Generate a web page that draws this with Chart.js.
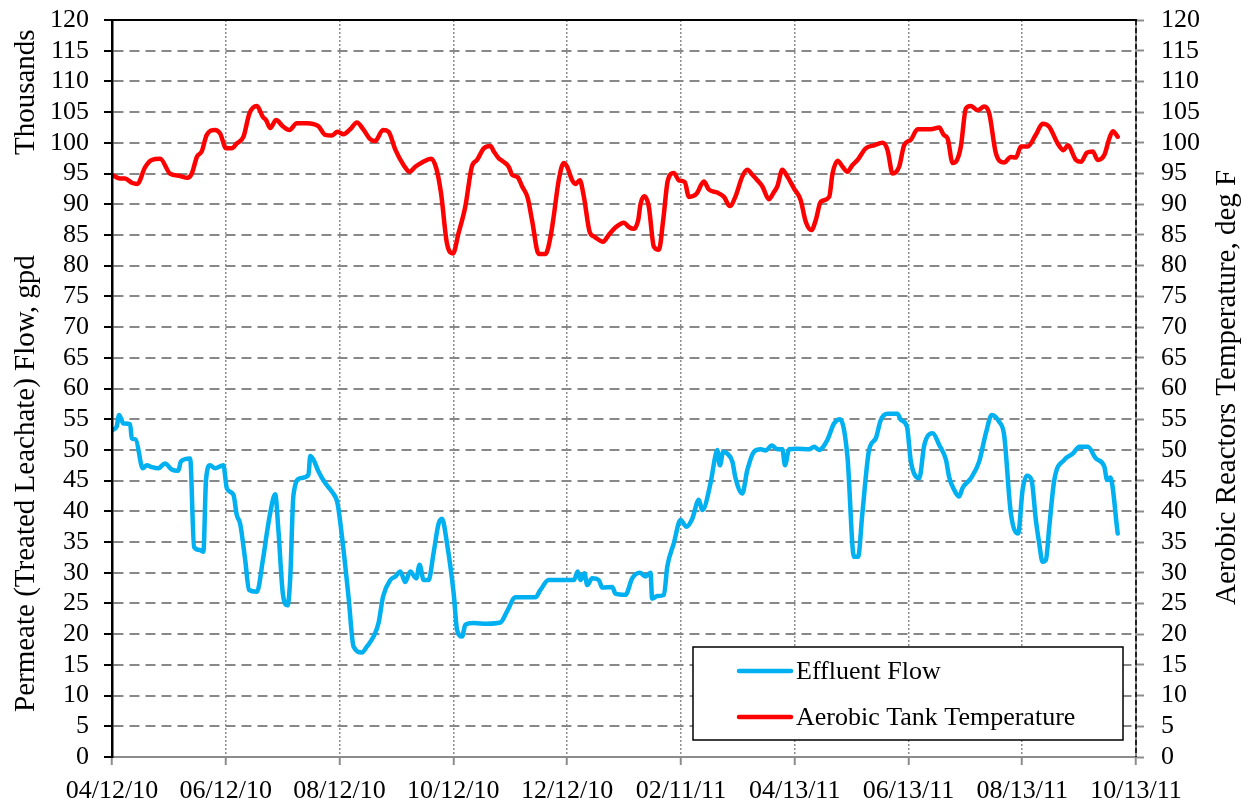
<!DOCTYPE html>
<html>
<head>
<meta charset="utf-8">
<script src="https://cdn.jsdelivr.net/npm/chart.js@4.4.1/dist/chart.umd.min.js"></script>
<style>
  html, body { margin: 0; padding: 0; background: #ffffff; }
  #wrap { width: 1252px; height: 804px; }
</style>
</head>
<body>
<div id="wrap"><canvas id="c" width="1252" height="804"></canvas></div>
<script>
// ---- Data (x = days since 04/12/10) ----
const tickLabels = ["04/12/10","06/12/10","08/12/10","10/12/10","12/12/10","02/11/11","04/13/11","06/13/11","08/13/11","10/13/11"];
const tickStepDays = 61;

const flowDays = [0,2.5,3.8,6.1,9.7,10.6,12.7,16.5,18.6,21.3,24.8,28.4,32.0,35.6,36.9,41.9,44.0,47.2,49.0,50.4,
  52.6,55.3,59.7,61.6,65.1,66.9,68.7,71.4,73.5,77.7,80.9,83.0,84.8,87.5,89.2,91.6,94.1,95.5,97.3,100.9,
  105.3,106.3,108.0,110.7,114.3,117.9,120.9,123.3,126.8,129.5,134.0,136.7,140.2,142.9,145.3,149.2,151.9,154.6,157.2,159.9,
  163.1,164.9,167.1,169.7,172.4,175.1,176.9,179.6,183.2,185.0,187.7,189.4,193.9,201.1,208.2,211.8,216.3,220.7,227.0,229.7,
  234.1,240.4,247.6,249.7,251.2,253.3,254.8,257.4,261.0,262.8,268.2,269.9,275.3,278.9,283.0,286.0,288.7,289.6,292.3,295.9,
  297.7,301.2,304.8,308.0,311.1,314.6,316.5,320.9,323.6,324.5,325.9,327.7,329.9,332.6,334.3,337.9,340.6,344.2,347.8,350.4,
  353.7,356.7,359.4,360.8,363.0,367.4,373.7,376.4,379.1,383.5,387.1,390.4,394.3,397.8,400.0,402.3,405.9,409.5,412.2,415.8,
  421.1,422.9,426.2,428.3,432.8,435.5,440.0,443.5,447.1,448.8,451.5,454.2,456.0,460.5,464.9,468.5,471.7,475.6,478.3,481.9,
  485.8,488.2,490.5,493.0,495.3,497.1,498.9,500.7,502.5,505.2,510.6,515.1,518.6,523.2,527.5,532.0,533.5,535.2,539.2];
const flowValues = [53.2,53.8,55.7,54.3,54.2,51.9,51.7,47.0,47.5,47.2,47.0,47.8,46.8,46.6,48.1,48.6,34.2,33.7,33.4,45.1,
  47.5,47.0,47.5,43.7,42.7,39.4,38.0,32.1,27.2,26.9,32.1,36.4,39.7,42.8,37.0,26.6,24.7,28.8,42.7,45.4,
  45.9,49.0,48.4,46.5,44.6,43.2,41.3,35.9,26.1,18.0,17.0,18.0,19.6,21.8,26.1,28.8,29.4,30.2,28.5,30.2,
  29.1,31.3,28.8,28.8,33.2,38.0,38.8,34.8,26.6,20.7,19.6,21.5,21.8,21.7,21.9,23.7,26.0,26.0,26.0,27.2,
  28.8,28.8,28.8,30.2,28.8,29.9,28.0,29.1,28.8,27.6,27.7,26.6,26.4,29.1,30.0,29.4,30.0,25.8,26.2,26.4,
  31.0,34.8,38.6,37.5,38.8,41.9,40.2,44.6,49.2,50.0,47.5,49.7,49.4,48.1,45.4,42.9,46.7,49.7,50.1,49.9,
  50.7,50.1,50.1,47.5,50.1,50.2,50.1,50.5,50.0,51.6,54.3,55.0,48.9,32.6,32.6,39.7,50.0,51.9,54.9,55.9,
  55.9,54.9,53.8,48.1,45.4,50.8,52.7,50.8,48.4,45.6,43.5,42.4,43.8,45.4,48.1,52.7,55.7,54.6,52.4,39.7,
  36.4,43.5,45.8,45.1,38.6,34.8,31.8,32.1,37.5,45.1,48.4,49.4,50.5,50.5,48.6,47.3,45.1,45.5,36.4];

const tempDays = [0,4.3,7.0,10.6,13.6,17.7,21.3,25.8,31.1,36.5,40.4,42.8,45.5,48.1,50.8,55.3,58.0,61.2,64.2,66.9,
  70.5,73.7,77.7,80.9,82.6,84.8,88.0,91.6,95.1,99.1,104.5,110.7,114.3,117.9,120.9,124.1,127.7,131.3,134.9,138.1,
  141.1,145.3,148.3,151.9,156.3,159.5,162.6,166.2,171.2,173.9,176.4,179.6,182.8,185.8,189.4,193.0,195.7,199.3,202.9,204.7,
  207.3,210.0,212.7,214.5,217.5,219.9,222.9,225.2,228.8,232.4,235.1,236.8,239.5,242.2,244.0,246.7,248.5,250.8,253.0,256.1,
  258.7,263.3,266.3,269.9,274.4,277.1,279.8,282.1,283.4,285.5,287.8,290.5,293.2,295.5,298.0,301.2,303.9,307.1,309.3,313.4,
  317.3,320.0,324.5,328.1,331.3,334.3,337.9,340.6,343.3,346.0,348.7,352.2,354.9,356.7,359.4,362.1,365.6,369.2,371.9,375.0,
  377.3,380.0,384.5,386.3,389.0,391.7,394.3,397.0,399.7,404.1,408.6,413.1,415.8,418.5,422.0,424.7,428.3,431.9,439.0,443.5,
  445.9,448.0,450.7,452.4,455.1,457.8,460.5,464.1,467.6,470.3,473.9,478.3,481.9,484.6,487.3,490.9,495.3,498.9,502.5,507.0,
  510.2,512.4,516.8,519.5,522.7,525.8,528.5,532.0,534.7,536.6,539.2];
const tempValues = [94.8,94.2,94.2,93.5,93.3,96.0,97.2,97.4,95.0,94.6,94.3,95.0,97.7,98.6,101.3,102.1,101.5,99.1,99.1,99.9,
  101.0,104.8,106.0,104.2,103.7,102.4,103.7,102.7,102.1,103.2,103.2,102.7,101.3,101.2,101.8,101.4,102.2,103.3,102.1,100.7,
  100.3,102.1,101.8,98.9,96.4,95.3,96.1,96.8,97.4,95.8,91.8,83.6,82.0,85.3,89.6,96.2,97.2,99.1,99.5,98.6,
  97.5,96.9,96.1,94.8,94.4,92.9,91.0,87.4,81.9,81.9,84.7,88.0,93.9,96.7,96.1,93.9,93.3,93.9,91.2,85.5,
  84.7,83.9,85.0,86.2,87.0,86.3,86.0,87.4,90.1,91.3,89.6,83.1,82.6,87.4,93.9,95.1,93.9,93.6,91.2,91.7,
  93.7,92.4,91.9,91.2,89.7,91.3,94.5,95.6,94.8,93.9,92.9,90.8,92.0,92.9,95.6,94.5,92.6,90.7,87.2,85.8,
  87.4,90.4,91.2,95.0,97.1,96.1,95.3,96.4,97.2,99.1,99.6,100.0,98.8,95.0,96.1,99.6,100.5,102.2,102.2,102.5,
  101.3,100.7,96.7,96.9,99.4,105.6,106.0,105.3,105.9,104.8,98.3,96.8,97.7,97.6,99.4,99.4,101.3,103.1,102.6,99.9,
  98.8,99.6,97.2,96.9,98.4,98.6,97.2,98.0,100.7,101.9,101.0];

const seriesNames = ["Effluent Flow", "Aerobic Tank Temperature"];
const leftTitleTop = "Thousands";
const leftTitle = "Permeate (Treated Leachate) Flow, gpd";
const rightTitle = "Aerobic Reactors Temperature, deg F";

// ---- Chart ----
const FONT = "'Liberation Serif', 'Times New Roman', serif";
const toPoints = (xs, ys) => xs.map((x, i) => ({ x: x, y: ys[i] }));

const decorPlugin = {
  id: 'decor',
  beforeDatasetsDraw(chart) {
    const { ctx, chartArea: a } = chart;
    ctx.save();
    ctx.strokeStyle = '#000';
    ctx.lineWidth = 2;
    ctx.beginPath();
    ctx.moveTo(a.left - 1, a.top);
    ctx.lineTo(a.right + 1, a.top);
    ctx.stroke();
    ctx.setLineDash([5, 3]);
    ctx.lineWidth = 1.5;
    ctx.beginPath();
    ctx.moveTo(a.right, a.top);
    ctx.lineTo(a.right, a.bottom);
    ctx.stroke();
    ctx.restore();
  },
  afterDraw(chart) {
    const { ctx, chartArea: a } = chart;
    ctx.save();
    ctx.fillStyle = '#000';
    ctx.font = "29px " + FONT;
    ctx.textAlign = 'left';
    ctx.textBaseline = 'alphabetic';
    const rot = (txt, x, y) => {
      ctx.save();
      ctx.translate(x, y);
      ctx.rotate(-Math.PI / 2);
      ctx.fillText(txt, 0, 0);
      ctx.restore();
    };
    rot(leftTitleTop, 34, 155);
    rot(leftTitle, 34, 712);
    rot(rightTitle, 1235, 605);

    const bx = a.right - 443, by = a.bottom - 110, bw = 430, bh = 93;
    ctx.fillStyle = '#fff';
    ctx.fillRect(bx, by, bw, bh);
    ctx.strokeStyle = '#000';
    ctx.lineWidth = 1.5;
    ctx.strokeRect(bx, by, bw, bh);
    const rows = [by + 24, by + 70];
    chart.data.datasets.forEach((ds, i) => {
      const y = rows[i];
      ctx.strokeStyle = ds.borderColor;
      ctx.lineWidth = 4.5;
      ctx.lineCap = 'round';
      ctx.beginPath();
      ctx.moveTo(bx + 46, y);
      ctx.lineTo(bx + 98, y);
      ctx.stroke();
      ctx.fillStyle = '#000';
      ctx.font = "26px " + FONT;
      ctx.textBaseline = 'alphabetic';
      ctx.fillText(ds.label, bx + 103, y + 8);
    });
    ctx.restore();
  }
};

new Chart(document.getElementById('c'), {
  type: 'line',
  data: {
    datasets: [
      {
        label: seriesNames[0],
        data: toPoints(flowDays, flowValues),
        borderColor: '#00B0F0',
        backgroundColor: '#00B0F0',
        borderWidth: 4.5,
        pointRadius: 0,
        cubicInterpolationMode: 'monotone',
        borderJoinStyle: 'round',
        borderCapStyle: 'round',
        yAxisID: 'y'
      },
      {
        label: seriesNames[1],
        data: toPoints(tempDays, tempValues),
        borderColor: '#FF0000',
        backgroundColor: '#FF0000',
        borderWidth: 4.5,
        pointRadius: 0,
        cubicInterpolationMode: 'monotone',
        borderJoinStyle: 'round',
        borderCapStyle: 'round',
        yAxisID: 'y2'
      }
    ]
  },
  options: {
    responsive: false,
    animation: false,
    devicePixelRatio: 1,
    layout: { padding: { left: 50, right: 52, top: 20, bottom: 0 } },
    plugins: { legend: { display: false }, tooltip: { enabled: false } },
    scales: {
      x: {
        type: 'linear',
        min: 0,
        max: tickStepDays * (tickLabels.length - 1),
        afterFit: (s) => { s.height = 47; s.paddingLeft = 0; s.paddingRight = 0; },
        ticks: {
          stepSize: tickStepDays,
          autoSkip: false,
          maxRotation: 0,
          padding: 13,
          color: '#000',
          font: { family: FONT, size: 26, lineHeight: 1 },
          callback: (v) => tickLabels[Math.round(v / tickStepDays)]
        },
        grid: {
          color: '#8c8c8c',
          lineWidth: 1.5,
          tickLength: 8,
          tickColor: '#8c8c8c',
          tickWidth: 2,
          tickBorderDash: []
        },
        border: { display: true, color: '#8c8c8c', width: 2, dash: [2, 2] }
      },
      y: {
        position: 'left',
        min: 0,
        max: 120,
        afterFit: (s) => { s.width = 62; s.paddingTop = 0; s.paddingBottom = 0; },
        ticks: {
          stepSize: 5,
          padding: 15,
          color: '#000',
          font: { family: FONT, size: 26, lineHeight: 1 }
        },
        grid: {
          color: '#888888',
          lineWidth: 2,
          tickLength: 8,
          tickColor: '#000',
          tickWidth: 2,
          tickBorderDash: []
        },
        border: { display: true, color: '#000', width: 2.5, dash: [10, 6], z: 1 }
      },
      y2: {
        position: 'right',
        min: 0,
        max: 120,
        afterFit: (s) => { s.width = 64; s.paddingTop = 0; s.paddingBottom = 0; },
        ticks: {
          stepSize: 5,
          padding: 17,
          color: '#000',
          font: { family: FONT, size: 26, lineHeight: 1 }
        },
        grid: {
          drawOnChartArea: false,
          tickLength: 8,
          tickColor: '#8c8c8c',
          tickWidth: 2
        },
        border: { display: true, color: '#8c8c8c', width: 2 }
      }
    }
  },
  plugins: [decorPlugin]
});
</script>
</body>
</html>
